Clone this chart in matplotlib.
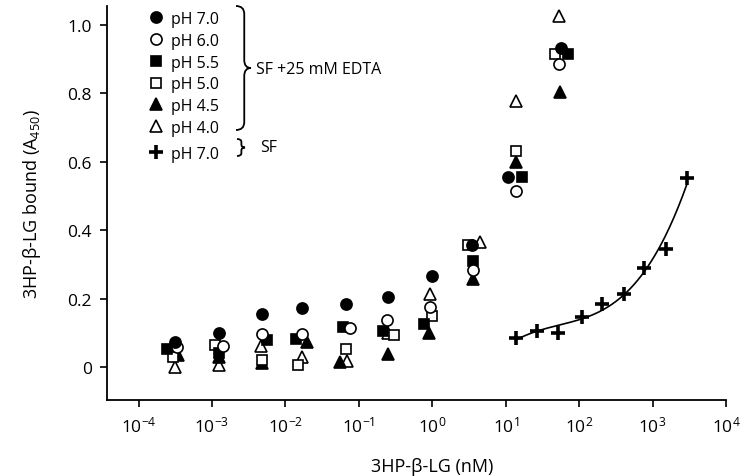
import numpy as np
import matplotlib
matplotlib.use("Agg")
import matplotlib.pyplot as plt
from matplotlib.path import Path
from matplotlib.patches import PathPatch

plt.rcParams['font.family'] = ['Open Sans', 'DejaVu Sans']
plt.rcParams['mathtext.fontset'] = 'custom'
plt.rcParams['mathtext.rm'] = 'Open Sans'
plt.rcParams['font.size'] = 12

# concentrations (nM) and A450, SF + 25 mM EDTA
ph70_x = [3.12e-4, 1.24e-3, 4.8e-3, 0.0168, 0.0671, 0.251, 1.0, 3.51, 10.9, 57.5]
ph70_y = [0.072, 0.100, 0.155, 0.174, 0.183, 0.206, 0.265, 0.357, 0.556, 0.932]
ph60_x = [3.32e-4, 1.41e-3, 4.8e-3, 0.0168, 0.0761, 0.243, 0.939, 3.63, 14.0, 54.0]
ph60_y = [0.058, 0.062, 0.097, 0.098, 0.114, 0.138, 0.175, 0.285, 0.514, 0.886]
ph55_x = [2.43e-4, 1.24e-3, 5.61e-3, 0.0140, 0.0611, 0.215, 0.778, 3.63, 16.9, 69.5]
ph55_y = [0.052, 0.042, 0.080, 0.082, 0.116, 0.105, 0.125, 0.310, 0.556, 0.915]
ph50_x = [2.93e-4, 1.10e-3, 4.8e-3, 0.0149, 0.0671, 0.303, 1.0, 3.10, 14.0, 47.6]
ph50_y = [0.030, 0.066, 0.022, 0.005, 0.052, 0.093, 0.150, 0.357, 0.632, 0.915]
ph45_x = [3.43e-4, 1.24e-3, 4.8e-3, 0.0197, 0.0556, 0.251, 0.910, 3.63, 14.0, 55.7]
ph45_y = [0.035, 0.030, 0.012, 0.073, 0.015, 0.038, 0.100, 0.257, 0.600, 0.804]
ph40_x = [3.12e-4, 1.24e-3, 4.65e-3, 0.0168, 0.0692, 0.251, 0.939, 4.52, 14.0, 54.0]
ph40_y = [0.000, 0.005, 0.062, 0.030, 0.018, 0.100, 0.215, 0.365, 0.778, 1.026]

# SF alone, pH 7.0
sf_x = [13.6, 27, 52, 108, 203, 403, 756, 1510, 2930]
sf_y = [0.085, 0.105, 0.099, 0.146, 0.184, 0.213, 0.289, 0.345, 0.553]

W, H = 742, 477
fig = plt.figure(figsize=(W / 100, H / 100), dpi=100)
ax = fig.add_axes([107 / W, 1 - 401 / H, (726 - 107) / W, (401 - 7) / H])

series = [
    (ph40_x, ph40_y, '^', 'white', 'pH 4.0'),
    (ph45_x, ph45_y, '^', 'black', 'pH 4.5'),
    (ph50_x, ph50_y, 's', 'white', 'pH 5.0'),
    (ph55_x, ph55_y, 's', 'black', 'pH 5.5'),
    (ph60_x, ph60_y, 'o', 'white', 'pH 6.0'),
    (ph70_x, ph70_y, 'o', 'black', 'pH 7.0'),
]
sizes = {'o': 8, 's': 7.5, '^': 8.5}
handles = {}
for x, y, m, fc, lab in series:
    h, = ax.plot(x, y, ls='none', marker=m, ms=sizes[m], mfc=fc, mec='black',
                 mew=1.2, clip_on=False)
    handles[lab] = h

# smooth fit through the SF points
lx = np.log10(sf_x)
coef = np.polyfit(lx, sf_y, 3)
xx = np.linspace(lx[0], lx[-1], 200)
ax.plot(10 ** xx, np.polyval(coef, xx), color='black', lw=1.2)
sf_h, = ax.plot(sf_x, sf_y, ls='none', marker='+', ms=10, mew=2.6, color='black')

ax.set_xscale('log')
ax.set_xlim(10 ** -4.43, 1e4)
ax.set_ylim(-0.096, 1.055)
ax.set_xticks([10.0 ** k for k in range(-4, 5)])
ax.xaxis.set_minor_locator(matplotlib.ticker.NullLocator())
ax.set_yticks([0, 0.2, 0.4, 0.6, 0.8, 1.0])
ax.set_yticklabels(['0', '0.2', '0.4', '0.6', '0.8', '1.0'])
for s in ['top', 'right']:
    ax.spines[s].set_visible(False)
for s in ['left', 'bottom']:
    ax.spines[s].set_linewidth(1.3)
ax.tick_params(direction='out', length=5, width=1.2, labelsize=12.5, pad=6)

ax.set_xlabel('3HP-β-LG (nM)', fontsize=13)
ax.xaxis.set_label_coords((432 - 107) / 619, -0.145)
ax.set_ylabel('3HP-β-LG bound (A$_{450}$)', fontsize=13)
ax.yaxis.set_label_coords(-0.104, 0.5)

order = ['pH 7.0', 'pH 6.0', 'pH 5.5', 'pH 5.0', 'pH 4.5', 'pH 4.0']
fig.legend([handles[k] for k in order], order, loc='upper left',
           bbox_to_anchor=(148 / W, 1 - 12 / H), frameon=False,
           borderpad=0, borderaxespad=0, handlelength=1.0,
           handletextpad=0.45, labelspacing=0.36, fontsize=11.5)
fig.legend([sf_h], ['pH 7.0'], loc='upper left',
           bbox_to_anchor=(148 / W, 1 - 147 / H), frameon=False,
           borderpad=0, borderaxespad=0, handlelength=1.0,
           handletextpad=0.45, fontsize=11.5)


def brace(x0, y0, y1, w, r):
    # right-facing curly brace in figure pixels (y from top)
    ym = (y0 + y1) / 2
    xm = x0 + w * 0.55
    pts = [(x0, y0), (xm, y0), (xm, y0 + r), (xm, ym - r),
           (xm, ym), (x0 + w, ym), (xm, ym), (xm, ym + r),
           (xm, y1 - r), (xm, y1), (x0, y1)]
    codes = [Path.MOVETO, Path.CURVE3, Path.CURVE3, Path.LINETO,
             Path.CURVE3, Path.CURVE3, Path.CURVE3, Path.CURVE3,
             Path.LINETO, Path.CURVE3, Path.CURVE3]
    verts = [(px / W, 1 - py / H) for px, py in pts]
    fig.add_artist(PathPatch(Path(verts, codes), fc='none',
                             ec='black', lw=1.3, transform=fig.transFigure))


brace(236, 7, 131, 15, 8)
brace(237, 140, 157, 8, 3)
fig.text(256 / W, 1 - 70 / H, 'SF +25 mM EDTA', fontsize=11.5, va='center')
fig.text(260 / W, 1 - 148 / H, 'SF', fontsize=11.5, va='center')

fig.savefig('out.png', dpi=100)
